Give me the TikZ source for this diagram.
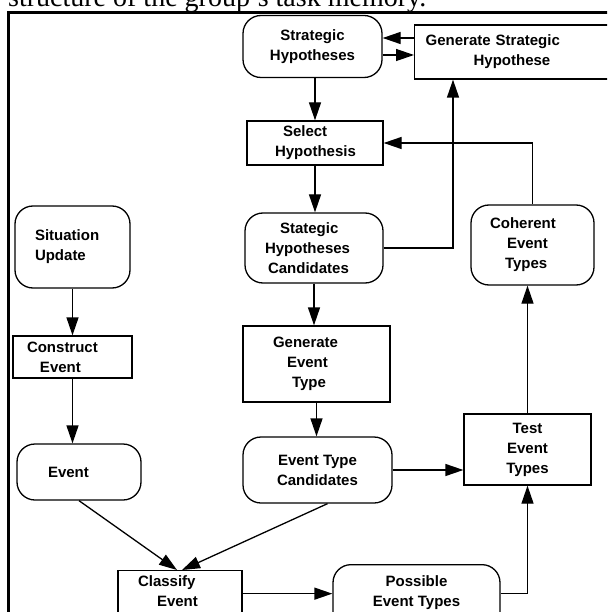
\documentclass[tikz,border=0pt]{standalone}
\usepackage{fontspec}
\setmainfont{Liberation Serif}
\setsansfont{Liberation Sans}
\usetikzlibrary{arrows.meta, positioning}

\begin{document}
\begin{tikzpicture}[
  x=1pt, y=-1pt,
  proc/.style={rectangle, draw, line width=1.3pt, inner sep=0pt,
               align=center, font=\sffamily\bfseries\fontsize{15}{20}\selectfont},
  store/.style={proc, rounded corners=18pt},
  arrow/.style={-{Triangle[length=18pt, width=12pt]}, line width=1.3pt}
]
\useasboundingbox (0,0) rectangle (607,612);
\clip (0,0) rectangle (607,612);

% caption line and frame (cut by the page)
\node[anchor=base west, inner sep=0pt, font=\fontsize{28}{34}\selectfont]
  (title) at (8,7) {structure of the group’s task memory.};
\draw[line width=3pt] (8.5,640) -- (8.5,12.5) -- (640,12.5);

% hypothesis column
\node[store, minimum width=139pt, minimum height=62pt] (sh) at (312.5,46.5) {Strategic\\Hypotheses};
\node[proc, anchor=west, minimum height=54pt, text width=200pt, inner xsep=11pt, align=left]
  (gsh) at (414,52) {Generate Strategic\\\hspace*{48pt}Hypothese};
\node[proc, minimum height=44pt, text width=80pt, inner xsep=28pt, align=left]
  (selh) at (315,143) {\hspace*{8pt}Select\\Hypothesis};
\node[store, minimum height=70pt, text width=98pt, inner xsep=20pt, align=left]
  (shc) at (314,248) {\hspace*{15pt}Stategic\\Hypotheses\\\hspace*{3pt}Candidates};
\node[store, minimum height=80pt, text width=85pt, inner xsep=19pt, align=left]
  (cet) at (532.5,245) {Coherent\\\hspace*{17pt}Event\\\hspace*{15pt}Types};

% event column
\node[store, minimum height=82pt, text width=75pt, inner xsep=20pt, align=left]
  (su) at (72.5,247) {Situation\\Update};
\node[proc, minimum height=42pt, text width=91pt, inner xsep=14pt, align=left]
  (ce) at (72.5,357) {Construct\\\hspace*{13pt}Event};
\node[proc, minimum height=76pt, text width=87pt, inner xsep=30pt, align=left]
  (get) at (316.5,364) {Generate\\\hspace*{14pt}Event\\\hspace*{19pt}Type};
\node[store, minimum height=56pt, text width=62pt, inner xsep=31pt, align=left]
  (ev) at (79,472) {Event};
\node[store, minimum width=149pt, minimum height=66pt] (etc) at (317.5,470) {Event Type\\Candidates};
\node[proc, minimum width=127pt, minimum height=71pt] (tet) at (527.5,449.5) {Test\\Event\\Types};

% bottom row
\node[proc, anchor=north, minimum height=60pt, text width=84pt, inner xsep=20pt, align=left]
  (cle) at (180,570) {Classify\\\hspace*{19pt}Event\\~};
\node[store, anchor=north, minimum width=167pt, minimum height=72pt]
  (pet) at (416.5,564) {Possible\\Event Types\\~};

% connectors
\draw[arrow] ([yshift=8.5pt]sh.east -| gsh.west) -- ([yshift=8.5pt]sh.east);
\draw[arrow] ([yshift=-8.5pt]sh.east) -- ([yshift=-8.5pt]sh.east -| gsh.west);
\draw[arrow] (selh.north |- sh.south) -- (selh.north);
\draw[arrow] (selh.south) -- (selh.south |- shc.north);
\draw[arrow] (shc.south) -- (shc.south |- get.north);
\draw[arrow] (get.south) -- (get.south |- etc.north);
\draw[arrow] (shc.east) -| ([xshift=39pt]gsh.south west);
\draw[arrow] (cet.north) |- (selh.east);
\draw[arrow] (su.south) -- (ce.north);
\draw[arrow] (ce.south) -- (ce.south |- ev.north);
\draw[arrow] (ev.south) -- ([xshift=-3pt]cle.north);
\draw[arrow] ([xshift=10pt]etc.south) -- ([xshift=2pt]cle.north);
\draw[arrow] (etc.east) -- (etc.east -| tet.west);
\draw[arrow] (tet.north) -- (tet.north |- cet.south);
\draw[arrow] ([yshift=7pt]cle.east) -- ([yshift=7pt]cle.east -| pet.west);
\draw[arrow] ([yshift=7pt]pet.east) -| (tet.south);

\end{tikzpicture}
\end{document}
